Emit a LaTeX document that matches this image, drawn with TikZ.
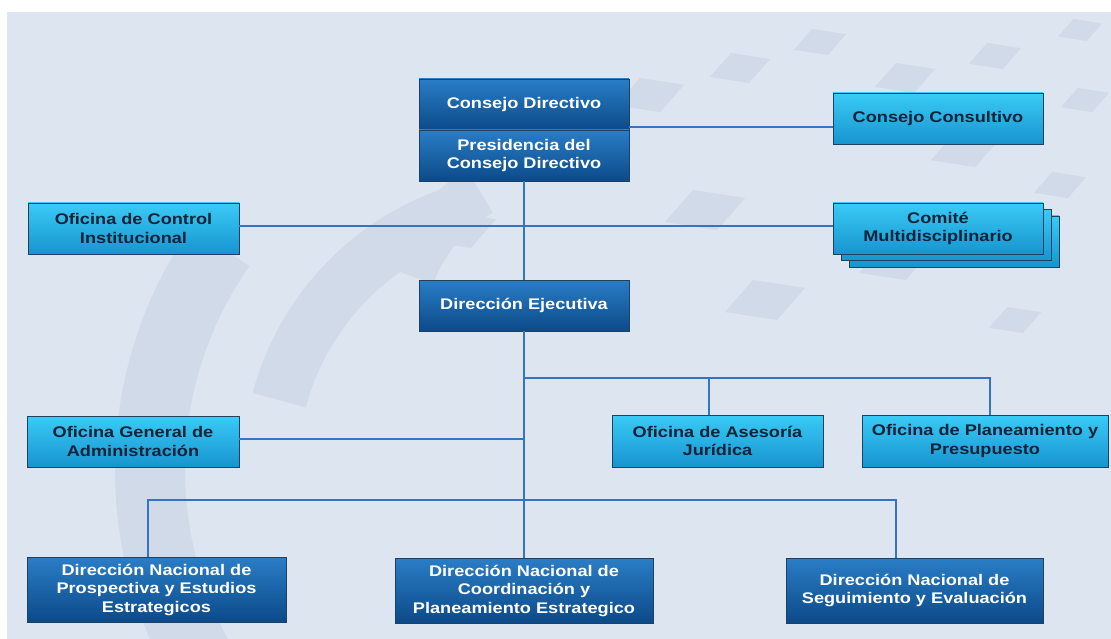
\documentclass[tikz,border=0pt]{standalone}
\usepackage{fontspec}
\newfontfamily\boxfont{Liberation Sans}[FakeStretch=1.18]
\definecolor{bgc}{HTML}{DCE5F0}
\definecolor{deco}{HTML}{D0DAE8}
\definecolor{dtop}{HTML}{2A7DC6}
\definecolor{dbot}{HTML}{0C4A89}
\definecolor{ltop}{HTML}{3ACBF6}
\definecolor{lbot}{HTML}{1794CF}
\definecolor{edge}{HTML}{22405F}
\definecolor{ltext}{HTML}{0F2338}
\definecolor{linkc}{HTML}{3574C0}
\tikzset{
  unit/.style={draw=edge, line width=0.9pt, align=center, inner sep=0pt,
    font=\boxfont\bfseries\fontsize{15.4}{18.5}\selectfont},
  dbox/.style={unit, top color=dtop, bottom color=dbot, text=white},
  lbox/.style={unit, top color=ltop, bottom color=lbot, text=ltext},
  link/.style={draw=linkc, line width=1.4pt},
  tile/.style={fill=deco}
}
\begin{document}
\begin{tikzpicture}[x=1pt,y=-1pt]
\useasboundingbox (0,0) rectangle (1111,639);
% page and background
\fill[white] (0,0) rectangle (1111,639);
\fill[bgc] (7,12) rectangle (1111,639);
% faint background pattern: slanted tiles and sweeping bands
\begin{scope}
\clip (7,12) rectangle (1111,639);
\foreach \cx/\cy/\s in {650/95/34, 740/68/30, 820/42/26, 905/78/30, 995/56/26, 1080/30/22,
                        1085/100/24, 965/150/34, 1060/185/26, 705/210/40, 460/230/36,
                        895/262/36, 765/300/40, 1015/320/26}
  \fill[tile] (\cx-\s,\cy+0.3*\s) -- (\cx+0.3*\s,\cy+0.5*\s) -- (\cx+\s,\cy-0.3*\s) -- (\cx-0.3*\s,\cy-0.5*\s) -- cycle;
\draw[deco, line width=70pt] (540,470) ++(150:390) arc[start angle=150, end angle=215, radius=390];
\draw[deco, line width=55pt] (540,470) ++(195:270) arc[start angle=195, end angle=250, radius=270];
\draw[deco, line width=50pt] (560,330) ++(200:160) arc[start angle=200, end angle=240, radius=160];
\end{scope}

% junctions and drop lines
\coordinate (jt) at (524,127);
\coordinate (jc) at (524,226);
\coordinate (jr) at (524,378);
\coordinate (jb) at (524,500);
\coordinate (xa) at (709,0);
\coordinate (xp) at (990,0);
\coordinate (xl) at (148,0);
\coordinate (xs) at (896,0);

% boxes
\node[dbox, minimum width=210, minimum height=51] (cd)  at (524,104.5) {Consejo Directivo};
\node[dbox, minimum width=210, minimum height=51] (pcd) at (524,155.5) {Presidencia del\\Consejo Directivo};
\node[lbox, minimum width=210, minimum height=51] (cc)  at (938,118.5) {Consejo Consultivo};
\node[lbox, minimum width=211, minimum height=51] (oci) at (133.5,228.5) {Oficina de Control\\Institucional};
\node[lbox, minimum width=210, minimum height=51] (com3) at (954,241.5) {};
\node[lbox, minimum width=210, minimum height=51] (com2) at (946,235) {};
\node[lbox, minimum width=210, minimum height=51] (com) at (938,228.5) {Comité\\Multidisciplinario};
\node[dbox, minimum width=210, minimum height=51] (de)  at (524,305.5) {Dirección Ejecutiva};
\node[lbox, minimum width=212, minimum height=51] (oga) at (133,441.5) {Oficina General de\\Administración};
\node[lbox, minimum width=211, minimum height=52] (oaj) at (717.5,441) {Oficina de Asesoría\\Jurídica};
\node[lbox, minimum width=246, minimum height=52] (opp) at (985,441) {Oficina de Planeamiento y\\Presupuesto};
\node[dbox, minimum width=259, minimum height=65] (dnp) at (156.5,589.5) {Dirección Nacional de\\Prospectiva y Estudios\\Estrategicos};
\node[dbox, minimum width=258, minimum height=65] (dnc) at (524,590.5) {Dirección Nacional de\\Coordinación y\\Planeamiento Estrategico};
\node[dbox, minimum width=257, minimum height=65] (dns) at (914.5,590.5) {Dirección Nacional de\\Seguimiento y Evaluación};

% connectors
\draw[link] (pcd.south) -- (de.north);
\draw[link] (pcd.east |- jt) -- (cc.west |- jt);
\draw[link] (oci.east |- jc) -- (com.west |- jc);
\draw[link] (de.south) -- (dnc.north);
\draw[link] (jr) -| (opp.north -| xp);
\draw[link] (xa |- jr) -- (oaj.north -| xa);
\draw[link] (oga.east |- 0,439) -- (jr |- 0,439);
\draw[link] (dnp.north -| xl) |- (jb) -| (dns.north -| xs);
\end{tikzpicture}
\end{document}
